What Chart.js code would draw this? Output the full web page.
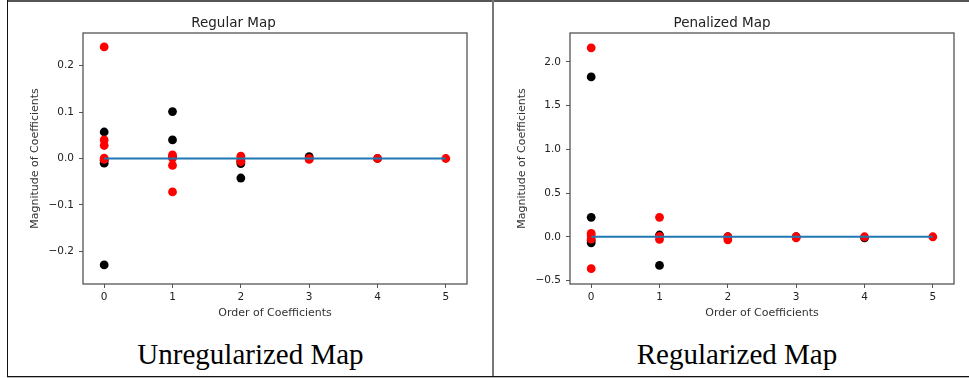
<!DOCTYPE html>
<html>
<head>
<meta charset="utf-8">
<script src="https://cdn.jsdelivr.net/npm/chart.js@4.4.1/dist/chart.umd.min.js"></script>
<style>
  html, body { margin: 0; padding: 0; background: #fff; }
  #page { position: relative; width: 969px; height: 378px; overflow: hidden; background: #fff; }
  canvas { position: absolute; top: 0; }
  .line { position: absolute; z-index: 2; }
  .caption {
    position: absolute; top: 340px; line-height: 29px; text-align: center;
    font-family: 'Liberation Serif', 'Times New Roman', serif; font-size: 29px; color: #000;
  }
</style>
</head>
<body>
<div id="page">
  <canvas id="regular" width="490" height="330" style="left:0px"></canvas>
  <canvas id="penalized" width="479" height="330" style="left:490px"></canvas>

  <div class="line" style="left:7px; top:0px; width:962px; height:2px; background:#555;"></div>
  <div class="line" style="left:7px; top:0px; width:1px; height:377px; background:#111;"></div>
  <div class="line" style="left:492px; top:0px; width:2px; height:377px; background:#777;"></div>
  <div class="line" style="left:7px; top:376px; width:962px; height:1px; background:#111;"></div>
  <div class="line" style="left:7px; top:377px; width:962px; height:1px; background:#bbb;"></div>

  <div class="caption" style="left:0px; width:501px;">Unregularized Map</div>
  <div class="caption" style="left:490px; width:494px;">Regularized Map</div>
</div>

<script>
//-------------------Data-------------------
const orders = [0, 1, 2, 3, 4, 5];
const zeroLine = [0, 0, 0, 0, 0, 0];
const xTicks = [0, 1, 2, 3, 4, 5];

// regular map coefficients
const regularBlackX = [0, 0, 0, 0, 1, 1, 1, 2, 2, 2, 3, 3, 4];
const regularBlackY = [0.057, -0.004, -0.010, -0.229, 0.101, 0.040, 0.003, -0.006, -0.011, -0.042, 0.004, 0.000, 0.000];
const regularRedX = [0, 0, 0, 0, 0, 1, 1, 1, 1, 2, 2, 2, 3, 3, 4, 5];
const regularRedY = [0.240, 0.040, 0.028, 0.001, -0.002, 0.008, 0.001, -0.015, -0.072, 0.005, -0.002, -0.007, 0.000, -0.002, 0.000, 0.000];
const regularYTicks = [-0.2, -0.1, 0.0, 0.1, 0.2];

// penalized map coefficients
const penalizedBlackX = [0, 0, 0, 0, 1, 1, 2, 3, 4];
const penalizedBlackY = [1.828, 0.222, -0.040, -0.069, 0.020, -0.328, 0.000, 0.000, -0.012];
const penalizedRedX = [0, 0, 0, 0, 0, 1, 1, 1, 2, 2, 3, 3, 4, 5];
const penalizedRedY = [2.160, -0.365, 0.039, 0.010, -0.026, 0.222, 0.005, -0.030, 0.000, -0.035, 0.000, -0.012, 0.000, 0.000];
const penalizedYTicks = [-0.5, 0.0, 0.5, 1.0, 1.5, 2.0];

//-------------------Functions-------------------
function toPoints(xs, ys){
  return xs.map((x, i) => ({x: x, y: ys[i]}));
}

function fmt(v){
  return v.toFixed(1).replace('-', '\u2212');
}

// box around the plot area, like a matplotlib axes frame
const framePlugin = {
  id: 'frame',
  afterDraw(chart){
    const a = chart.chartArea;
    const ctx = chart.ctx;
    ctx.save();
    ctx.strokeStyle = '#555';
    ctx.lineWidth = 1.3;
    ctx.strokeRect(a.left, a.top, a.right - a.left, a.bottom - a.top);
    ctx.restore();
  }
};

function drawMap(canvasId, title, blackX, blackY, redX, redY, yTicks, yMin, yMax, yWidth, rightPad, yTitlePad){
  const ctx = document.getElementById(canvasId).getContext('2d');
  const tickFont = {family: 'DejaVu Sans', size: 10.5};
  const labelFont = {family: 'DejaVu Sans', size: 11};

  return new Chart(ctx, {
    type: 'scatter',
    data: {
      datasets: [
        {
          data: toPoints(orders, zeroLine),
          showLine: true,
          borderColor: '#1f77b4',
          borderWidth: 2,
          pointRadius: 0,
          order: 0
        },
        {
          data: toPoints(redX, redY),
          backgroundColor: '#ff0000',
          borderWidth: 0,
          pointRadius: 4.4,
          order: 1
        },
        {
          data: toPoints(blackX, blackY),
          backgroundColor: '#000000',
          borderWidth: 0,
          pointRadius: 4.4,
          order: 2
        }
      ]
    },
    options: {
      responsive: false,
      animation: false,
      devicePixelRatio: 1,
      layout: {padding: {left: 0, right: rightPad, top: 0, bottom: 0}},
      plugins: {
        legend: {display: false},
        tooltip: {enabled: false},
        title: {
          display: true,
          text: title,
          color: '#222',
          font: {family: 'DejaVu Sans', size: 13.5, weight: 'normal'},
          padding: {top: 15.5, bottom: 1.3}
        }
      },
      scales: {
        x: {
          type: 'linear',
          min: -0.31,
          max: 5.31,
          afterBuildTicks: (s) => { s.ticks = xTicks.map(v => ({value: v})); },
          afterFit: (s) => { s.height = 46; },
          grid: {drawOnChartArea: false, tickLength: 4, color: '#555'},
          border: {display: false},
          ticks: {color: '#222', font: tickFont, padding: 3, maxRotation: 0, callback: (v) => String(v)},
          title: {display: true, text: 'Order of Coefficients', color: '#333', font: labelFont, padding: {top: 0, bottom: 10.4}}
        },
        y: {
          type: 'linear',
          min: yMin,
          max: yMax,
          afterBuildTicks: (s) => { s.ticks = yTicks.map(v => ({value: v})); },
          afterFit: (s) => { s.width = yWidth; },
          grid: {drawOnChartArea: false, tickLength: 4, color: '#555'},
          border: {display: false},
          ticks: {color: '#222', font: tickFont, padding: 5, callback: (v) => fmt(v)},
          title: {display: true, text: 'Magnitude of Coefficients', color: '#333', font: labelFont, padding: {top: yTitlePad, bottom: 0}}
        }
      }
    },
    plugins: [framePlugin]
  });
}

//-------------------Main-------------------
drawMap('regular', 'Regular Map', regularBlackX, regularBlackY, regularRedX, regularRedY,
  regularYTicks, -0.27, 0.27, 83, 23, 28.4);
drawMap('penalized', 'Penalized Map', penalizedBlackX, penalizedBlackY, penalizedRedX, penalizedRedY,
  penalizedYTicks, -0.54, 2.33, 80, 15, 25.4);
</script>
</body>
</html>
